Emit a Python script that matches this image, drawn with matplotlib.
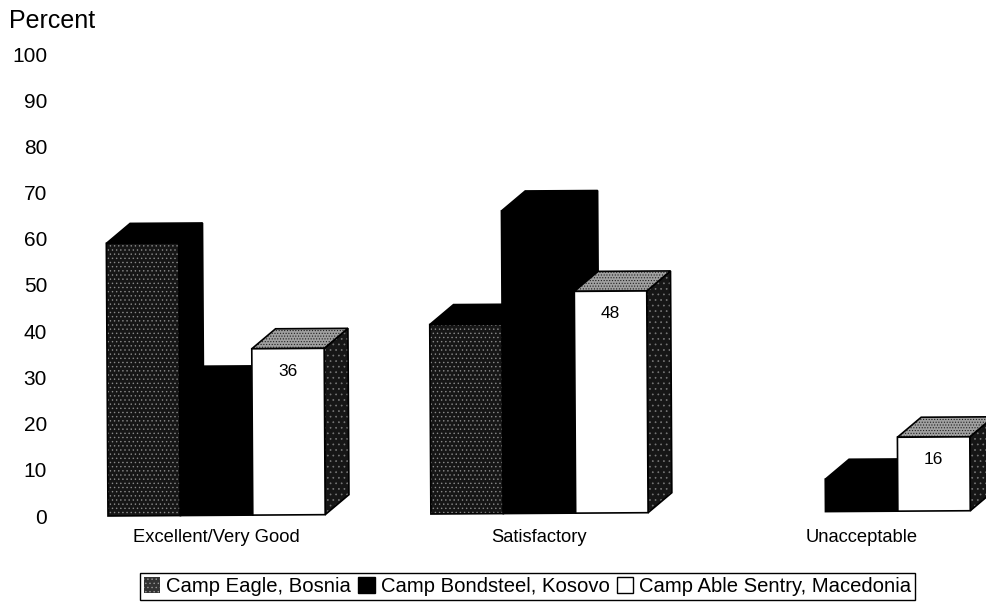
import matplotlib
matplotlib.use("Agg")
import matplotlib.pyplot as plt
from matplotlib.patches import Patch
from matplotlib.transforms import Affine2D

plt.rcParams["font.family"] = ["Liberation Sans", "DejaVu Sans"]
plt.rcParams["hatch.linewidth"] = 0.5

categories = ["Excellent/Very Good", "Satisfactory", "Unacceptable"]
series = ["Camp Eagle, Bosnia", "Camp Bondsteel, Kosovo", "Camp Able Sentry, Macedonia"]
eagle = [59, 41, 0]
bondsteel = [28, 65.5, 7]
able_sentry = [36, 48, 16]
y_ticks = list(range(0, 101, 10))
shown_labels = ["36", "48", "16"]

W, H = 987, 603
fig = plt.figure(figsize=(W / 100, H / 100), dpi=100)
ax = fig.add_axes([61 / W, (H - 516) / H, (W - 61) / W, (516 - 54) / H])
ax.set_xlim(-0.649, 12.141)
ax.set_ylim(0, 100)
for s in ax.spines.values():
    s.set_visible(False)

# the scan is a bit crooked, bars lean up to the right
skew = Affine2D().rotate_deg_around(107, H - 516, 0.35)
tr = ax.transData + skew

dx = 0.33  # depth of the 3d boxes in bar widths
dy = 4.3   # and in percent


def poly(xs, ys, color, hatch_color=None, hatch=None, z=2):
    ax.fill(xs, ys, facecolor=color, edgecolor=hatch_color or color, hatch=hatch,
            lw=0, transform=tr, zorder=z, clip_on=False)
    ax.fill(xs, ys, facecolor="none", edgecolor="black", lw=1.2, transform=tr,
            zorder=z, clip_on=False)


def box(x, v, front, front_hatch, front_hc, top, top_hatch, top_hc, side, side_hatch, side_hc, z):
    poly([x + 1, x + 1 + dx, x + 1 + dx, x + 1], [0, dy, v + dy, v], side, side_hc, side_hatch, z)
    poly([x, x + dx, x + 1 + dx, x + 1], [v, v + dy, v + dy, v], top, top_hc, top_hatch, z)
    ax.bar(x, v, width=1, align="edge", color=front, edgecolor=front_hc, hatch=front_hatch,
           lw=0, transform=tr, zorder=z + 0.1, clip_on=False)
    ax.bar(x, v, width=1, align="edge", color="none", edgecolor="black", lw=1.2,
           transform=tr, zorder=z + 0.1, clip_on=False)


starts = [0, 4.46, 8.91]
for g, x0 in enumerate(starts):
    if eagle[g] > 0:
        box(x0, eagle[g], "#161616", "....", "#8a8a8a", "black", None, None,
            "black", None, None, 2)
    box(x0 + 1, bondsteel[g], "black", None, None, "black", None, None, "black", None, None, 3)
    box(x0 + 2, able_sentry[g], "white", None, None, "#a0a0a0", "......", "#222222",
        "#161616", "...", "#777777", 4)
    ax.text(x0 + 2.5, able_sentry[g] - 4.9, shown_labels[g], ha="center", va="center",
            fontsize=12.5, transform=tr, zorder=6)

ax.set_yticks(y_ticks)
ax.set_xticks([x + 1.5 for x in starts])
ax.set_xticklabels(categories, fontsize=13.2)
ax.tick_params(axis="x", length=0, pad=9)
ax.tick_params(axis="y", length=0, pad=10, labelsize=15)

fig.text(9 / W, 1 - 21 / H, "Percent", fontsize=18, ha="left", va="center")

handles = [
    Patch(facecolor="#333333", edgecolor="#999999", hatch="....", lw=0),
    Patch(facecolor="black", edgecolor="black"),
    Patch(facecolor="white", edgecolor="black"),
]
fig.legend(handles, series, ncol=3, loc="center", bbox_to_anchor=(527.5 / W, 1 - 586.5 / H),
           fontsize=14.6, frameon=True, fancybox=False, edgecolor="black", framealpha=1,
           handlelength=0.8, handleheight=0.8, handletextpad=0.3, columnspacing=0.35,
           borderpad=0.22, borderaxespad=0)

fig.savefig("out.png", dpi=100)
